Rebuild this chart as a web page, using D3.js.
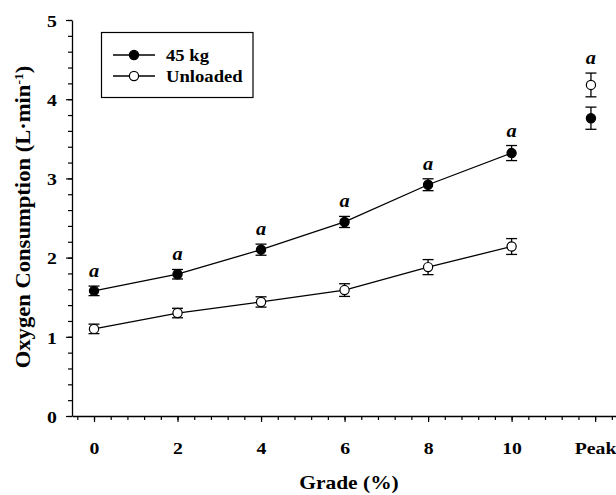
<!DOCTYPE html>
<html>
<head>
<meta charset="utf-8">
<script src="https://cdn.jsdelivr.net/npm/d3@7"></script>
<style>
  body { margin: 0; background: #fff; }
  text { font-family: "Liberation Serif", "Times New Roman", serif; font-weight: bold; fill: #000; }
</style>
</head>
<body>
<div id="chart"></div>
<script>
// Grades on the treadmill, plus the peak value at the end
const grades = [0, 2, 4, 6, 8, 10];
const loadedMean = [1.58, 1.79, 2.10, 2.45, 2.92, 3.32];
const loadedSE = [0.06, 0.06, 0.07, 0.07, 0.075, 0.095];
const unloadedMean = [1.10, 1.30, 1.44, 1.59, 1.88, 2.14];
const unloadedSE = [0.06, 0.06, 0.065, 0.08, 0.095, 0.10];
const peakLoaded = { mean: 3.76, se: 0.14 };
const peakUnloaded = { mean: 4.18, se: 0.15 };
const xTickValues = [0, 2, 4, 6, 8, 10, 12];
const xTickLabels = ["0", "2", "4", "6", "8", "10", "Peak"];
const yTickValues = [0, 1, 2, 3, 4, 5];

const peakPos = 11.9;
const stretch = 1.13; // the original lettering is a bit wider than Liberation Serif

const width = 616, height = 495;
const svg = d3.select("#chart").append("svg")
    .attr("width", width)
    .attr("height", height);

const x = d3.scaleLinear().domain([-0.527, 12.5]).range([72, 616]);
const y = d3.scaleLinear().domain([0, 5]).range([416, 20]);

// minor ticks
const yMinor = d3.range(0, 5.01, 0.2).map(v => +v.toFixed(1));
const xMinor = d3.range(-0.4, 12.5, 0.4).map(v => +v.toFixed(1));

svg.append("g")
    .attr("transform", "translate(72,0)")
    .call(d3.axisLeft(y).tickValues(yMinor).tickSize(4).tickFormat(""))
    .call(g => g.select(".domain").remove());
svg.append("g")
    .attr("transform", "translate(0,416)")
    .call(d3.axisBottom(x).tickValues(xMinor).tickSize(4).tickFormat(""))
    .call(g => g.select(".domain").remove());

// major ticks
const yAxis = svg.append("g")
    .attr("transform", "translate(72,0)")
    .call(d3.axisLeft(y).tickValues(yTickValues).tickSize(6).tickSizeOuter(0).tickFormat(d3.format("d")));
const xAxis = svg.append("g")
    .attr("transform", "translate(0,416)")
    .call(d3.axisBottom(x).tickValues(xTickValues).tickSize(6).tickSizeOuter(0).tickPadding(20)
        .tickFormat((d, i) => xTickLabels[i]));

svg.selectAll(".tick line").attr("stroke-width", 1.2);
svg.selectAll(".domain").attr("stroke-width", 1.3);
[yAxis, xAxis].forEach(a => a.selectAll("text")
    .style("font-family", "'Liberation Serif', serif")
    .style("font-weight", "bold")
    .style("font-size", "17.5px"));
xAxis.selectAll("text").attr("transform", `scale(${stretch},1)`);
yAxis.selectAll("text")
    .attr("x", 0)
    .attr("dy", "0.36em")
    .attr("transform", `translate(-15,0) scale(${stretch},1)`);

// axis titles
svg.append("text")
    .attr("transform", `translate(349,489) scale(${stretch},1)`)
    .attr("text-anchor", "middle")
    .style("font-size", "19px")
    .text("Grade (%)");

const yTitle = svg.append("text")
    .attr("transform", "translate(30,217) rotate(-90) scale(1.13,1)")
    .attr("text-anchor", "middle")
    .style("font-size", "20px");
yTitle.append("tspan").text("Oxygen Consumption (L·min");
yTitle.append("tspan").attr("dy", -7).style("font-size", "12px").text("-1");
yTitle.append("tspan").attr("dy", 7).text(")");

// series
const line = d3.line().x(d => x(d.g)).y(d => y(d.m));
const loaded = grades.map((g, i) => ({ g, m: loadedMean[i], se: loadedSE[i] }));
const unloaded = grades.map((g, i) => ({ g, m: unloadedMean[i], se: unloadedSE[i] }));

function drawSeries(data) {
    svg.append("path")
        .datum(data)
        .attr("d", line)
        .attr("fill", "none")
        .attr("stroke", "#000")
        .attr("stroke-width", 1.3);
}
drawSeries(unloaded);
drawSeries(loaded);

function drawPoints(data, filled) {
    const g = svg.append("g");
    const err = g.selectAll(".err").data(data).enter().append("g");
    err.append("line")
        .attr("x1", d => x(d.g)).attr("x2", d => x(d.g))
        .attr("y1", d => y(d.m - d.se)).attr("y2", d => y(d.m + d.se));
    err.append("line")
        .attr("x1", d => x(d.g) - 5.5).attr("x2", d => x(d.g) + 5.5)
        .attr("y1", d => y(d.m - d.se)).attr("y2", d => y(d.m - d.se));
    err.append("line")
        .attr("x1", d => x(d.g) - 5.5).attr("x2", d => x(d.g) + 5.5)
        .attr("y1", d => y(d.m + d.se)).attr("y2", d => y(d.m + d.se));
    err.selectAll("line").attr("stroke", "#000").attr("stroke-width", 1.3);

    g.selectAll("circle").data(data).enter().append("circle")
        .attr("cx", d => x(d.g))
        .attr("cy", d => y(d.m))
        .attr("r", 4.6)
        .attr("fill", filled ? "#000" : "#fff")
        .attr("stroke", "#000")
        .attr("stroke-width", 1.2);
}
drawPoints(unloaded, false);
drawPoints(loaded, true);
drawPoints([{ g: peakPos, m: peakUnloaded.mean, se: peakUnloaded.se }], false);
drawPoints([{ g: peakPos, m: peakLoaded.mean, se: peakLoaded.se }], true);

// significance marks
const marks = loaded.map(d => ({ g: d.g, top: d.m + d.se }))
    .concat([{ g: peakPos, top: peakUnloaded.mean + peakUnloaded.se }]);
svg.selectAll(".sig").data(marks).enter().append("text")
    .attr("class", "sig")
    .attr("transform", d => `translate(${x(d.g)},${y(d.top) - 9}) scale(${stretch},1)`)
    .attr("text-anchor", "middle")
    .style("font-size", "18px")
    .style("font-style", "italic")
    .text("a");

// legend
const legend = svg.append("g");
legend.append("rect")
    .attr("x", 101.5).attr("y", 32.5)
    .attr("width", 151.5).attr("height", 65)
    .attr("fill", "none")
    .attr("stroke", "#000")
    .attr("stroke-width", 1.2);
const legendItems = [{ label: "45 kg", filled: true }, { label: "Unloaded", filled: false }];
legendItems.forEach((item, i) => {
    const cy = 55 + i * 21;
    legend.append("line")
        .attr("x1", 113).attr("x2", 155)
        .attr("y1", cy).attr("y2", cy)
        .attr("stroke", "#000").attr("stroke-width", 1.3);
    legend.append("circle")
        .attr("cx", 134).attr("cy", cy).attr("r", 4.6)
        .attr("fill", item.filled ? "#000" : "#fff")
        .attr("stroke", "#000").attr("stroke-width", 1.2);
    legend.append("text")
        .attr("transform", `translate(166,${cy + 6}) scale(${stretch},1)`)
        .style("font-size", "16.5px")
        .text(item.label);
});
</script>
</body>
</html>
